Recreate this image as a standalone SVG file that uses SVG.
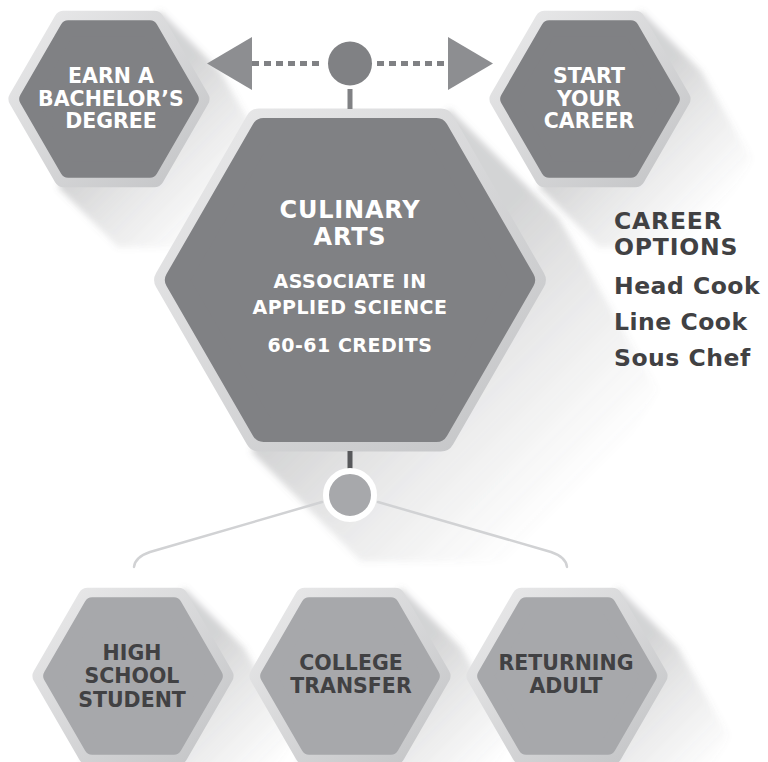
<svg xmlns="http://www.w3.org/2000/svg" width="768" height="762" viewBox="0 0 768 762">
  <style>
    .rim { fill: url(#rim); stroke: url(#rim); stroke-linejoin: round; }
    .rimS { stroke-width: 20; }
    .rimL { stroke-width: 28; }
    .dark { fill: #808184; stroke: #808184; stroke-linejoin: round; }
    .light { fill: #a7a8ab; stroke: #a7a8ab; stroke-linejoin: round; }
    .faceS { stroke-width: 16; }
    .faceL { stroke-width: 24; }
    .shS { fill: url(#shadeS); filter: url(#soft); }
    .shL { fill: url(#shadeL); filter: url(#soft); }
    text { font-family: "DejaVu Sans", "Liberation Sans", sans-serif; font-weight: bold; }
    .w { fill: #ffffff; text-anchor: middle; font-size: 20.5px; }
    .k { fill: #414143; text-anchor: middle; font-size: 20.5px; }
    .title { font-size: 24px; letter-spacing: 0.8px; }
    .sub { font-size: 19px; letter-spacing: 0.5px; }
    .opt { fill: #414143; font-size: 23.5px; }
    .caps { letter-spacing: 0.8px; }
    .low { letter-spacing: 0.5px; }
    .dots { fill: none; stroke: #808184; stroke-width: 5; stroke-dasharray: 7 5; }
    .branch { fill: none; stroke: #d1d2d4; stroke-width: 2.5; stroke-linecap: round; }
    .tip { fill: #8d8e91; }
  </style>
  <defs>
    <linearGradient id="rim" x1="0" y1="0" x2="1" y2="1">
      <stop offset="0" stop-color="#e9e9ea"/>
      <stop offset="1" stop-color="#c4c5c7"/>
    </linearGradient>
    <linearGradient id="shadeS" gradientUnits="userSpaceOnUse" x1="20" y1="20" x2="120" y2="120">
      <stop offset="0" stop-color="#6d6e71" stop-opacity="0.3"/>
      <stop offset="0.4" stop-color="#6d6e71" stop-opacity="0.16"/>
      <stop offset="1" stop-color="#6d6e71" stop-opacity="0"/>
    </linearGradient>
    <linearGradient id="shadeL" gradientUnits="userSpaceOnUse" x1="40" y1="40" x2="220" y2="220">
      <stop offset="0" stop-color="#6d6e71" stop-opacity="0.3"/>
      <stop offset="0.4" stop-color="#6d6e71" stop-opacity="0.16"/>
      <stop offset="1" stop-color="#6d6e71" stop-opacity="0"/>
    </linearGradient>
    <filter id="soft" x="-20%" y="-20%" width="140%" height="140%">
      <feGaussianBlur stdDeviation="3"/>
    </filter>
    <!-- small hexagon: outer radius 102, face radius 91 -->
    <polygon id="shadowS" points="51,-88.3 111,-28.3 162,60 111,148.3 9,148.3 -51,88.3 0,0"/>
    <polygon id="rimHexS" points="90.5,0 45.25,78.37 -45.25,78.37 -90.5,0 -45.25,-78.37 45.25,-78.37"/>
    <polygon id="faceHexS" points="81.8,0 40.9,70.84 -40.9,70.84 -81.8,0 -40.9,-70.84 40.9,-70.84"/>
    <!-- large hexagon: outer radius 198, face radius 187 -->
    <polygon id="shadowL" points="99,-171.5 209,-61.5 308,110 209,281.5 11,281.5 -99,171.5 0,0"/>
    <polygon id="rimHexL" points="181.8,0 90.9,157.44 -90.9,157.44 -181.8,0 -90.9,-157.44 90.9,-157.44"/>
    <polygon id="faceHexL" points="173.1,0 86.55,149.9 -86.55,149.9 -173.1,0 -86.55,-149.9 86.55,-149.9"/>
  </defs>

  <rect width="768" height="762" fill="#ffffff"/>

  <g id="bachelors">
    <g transform="translate(109,99)">
      <use href="#shadowS" class="shS"/>
      <use href="#rimHexS" class="rim rimS"/>
      <use href="#faceHexS" class="dark faceS"/>
    </g>
    <text class="w" x="111" y="83">EARN A</text>
    <text class="w" x="111" y="105.5">BACHELOR’S</text>
    <text class="w" x="111" y="128">DEGREE</text>
  </g>

  <g id="career">
    <g transform="translate(590,99)">
      <use href="#shadowS" class="shS"/>
      <use href="#rimHexS" class="rim rimS"/>
      <use href="#faceHexS" class="dark faceS"/>
    </g>
    <text class="w" x="589" y="83">START</text>
    <text class="w" x="589" y="105.5">YOUR</text>
    <text class="w" x="589" y="128">CAREER</text>
  </g>

  <g id="culinary">
    <g transform="translate(350,280)">
      <use href="#shadowL" class="shL"/>
      <use href="#rimHexL" class="rim rimL"/>
      <use href="#faceHexL" class="dark faceL"/>
    </g>
    <text class="w title" x="350" y="218">CULINARY</text>
    <text class="w title" x="350" y="245">ARTS</text>
    <text class="w sub" x="350" y="288">ASSOCIATE IN</text>
    <text class="w sub" x="350" y="314">APPLIED SCIENCE</text>
    <text class="w sub" x="350" y="352">60-61 CREDITS</text>
  </g>

  <g id="high-school">
    <g transform="translate(133,676)">
      <use href="#shadowS" class="shS"/>
      <use href="#rimHexS" class="rim rimS"/>
      <use href="#faceHexS" class="light faceS"/>
    </g>
    <text class="k" x="132" y="660">HIGH</text>
    <text class="k" x="132" y="683">SCHOOL</text>
    <text class="k" x="132" y="707">STUDENT</text>
  </g>

  <g id="transfer">
    <g transform="translate(350,676)">
      <use href="#shadowS" class="shS"/>
      <use href="#rimHexS" class="rim rimS"/>
      <use href="#faceHexS" class="light faceS"/>
    </g>
    <text class="k" x="351" y="670">COLLEGE</text>
    <text class="k" x="351" y="693">TRANSFER</text>
  </g>

  <g id="returning">
    <g transform="translate(567,676)">
      <use href="#shadowS" class="shS"/>
      <use href="#rimHexS" class="rim rimS"/>
      <use href="#faceHexS" class="light faceS"/>
    </g>
    <text class="k" x="566" y="670">RETURNING</text>
    <text class="k" x="566" y="693">ADULT</text>
  </g>

  <g id="career-options">
    <text class="opt caps" x="614" y="229">CAREER</text>
    <text class="opt caps" x="614" y="255">OPTIONS</text>
    <text class="opt low" x="614" y="294">Head Cook</text>
    <text class="opt low" x="614" y="330">Line Cook</text>
    <text class="opt low" x="614" y="366">Sous Chef</text>
  </g>

  <g id="connectors">
    <!-- upper hub with dotted arrows to both goals -->
    <line class="dots" x1="252" y1="63.5" x2="324" y2="63.5"/>
    <line class="dots" x1="377" y1="63.5" x2="449" y2="63.5"/>
    <polygon class="tip" points="207,63.5 252,37 252,90"/>
    <polygon class="tip" points="493,63.5 448,37 448,90"/>
    <circle cx="350" cy="63.5" r="22" fill="#808184"/>
    <rect x="347.5" y="89" width="5" height="20" fill="#808184"/>
    <!-- lower hub branching to the entry paths -->
    <rect x="347.5" y="451" width="5" height="20" fill="#57585b"/>
    <path class="branch" d="M 322 502 L 150 552 Q 135 557 134 567"/>
    <path class="branch" d="M 378 502 L 551 552 Q 566 557 567 567"/>
    <circle cx="350" cy="495" r="24" fill="#a7a8ab" stroke="#ffffff" stroke-width="6"/>
  </g>
</svg>
